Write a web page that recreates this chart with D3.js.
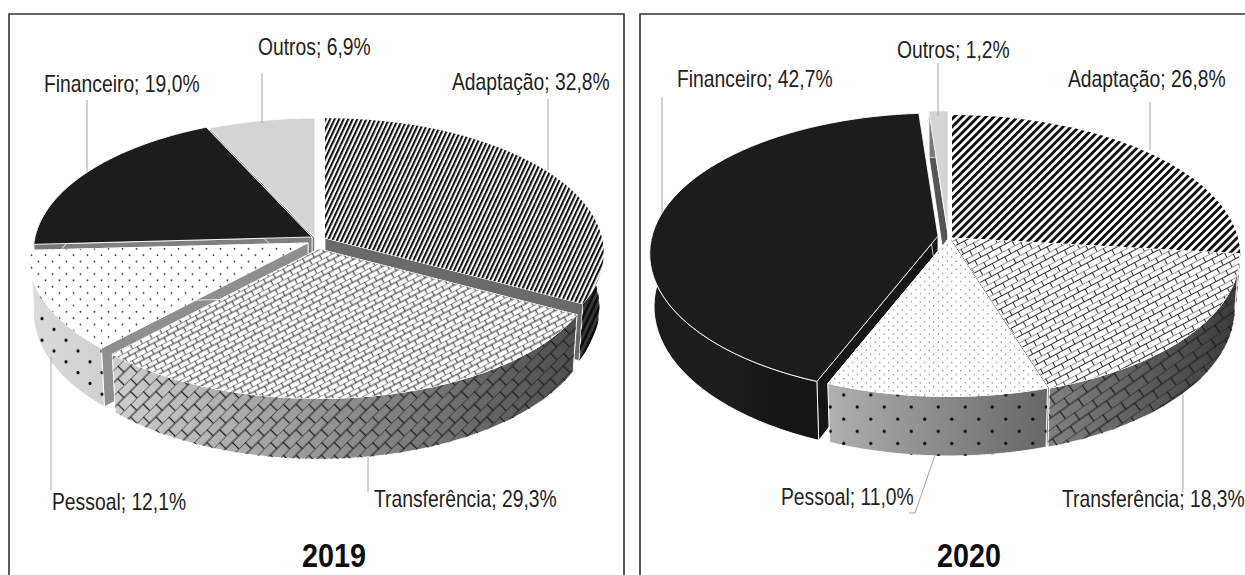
<!DOCTYPE html>
<html><head><meta charset="utf-8">
<script src="https://cdnjs.cloudflare.com/ajax/libs/d3/7.8.5/d3.min.js"></script>
<style>html,body{margin:0;padding:0;background:#fff;overflow:hidden}
text{font-family:"Liberation Sans",Arial,sans-serif;fill:#222}</style>
</head><body><div id="chart"></div>
<script>
const categories = ["Adaptação","Transferência","Pessoal","Financeiro","Outros"];
const values2019 = [32.8,29.3,12.1,19.0,6.9];
const values2020 = [26.8,18.3,11.0,42.7,1.2];
const fmt = v => d3.format(".1f")(v).replace(".",",")+"%";

// presentation settings, kept apart from the data
const panels = [
 {year:"2019", values:values2019, box:[9,14], titleX:334, Rx:277, Ry:133, p:.11, D:54,
  apex:[[325,238],[319,249],[308,243],[312,237],[315,238]],
  order:[4,3,0,2,1],
  stripe:{a:25,w:4.1}, dots:{t:14,r:.9,c:"#333"}, wallDots:{t:24,r:1.6}, brick:{w:11,h:10,a:-28,sw:.9}, wallBrick:{w:18,h:18,a:-45,sw:1.2},
  radial:["#6a6a6a","#888","#8f8f8f","#808080","#777"],
  wallStops:[["#666","#333"],["#cfcfcf","#4d4d4d"],["#dcdcdc","#d0d0d0"],["#777","#777"],["#888","#888"]],
  labels:[[452,90],[374,507],[52,510],[44,92],[258,55]],
  leaders:[[[548,99],[548,170]],[[368,457],[368,492]],[[51,357],[51,490]],[[87,100],[87,172]],[[262,73],[262,123]]]},
 {year:"2020", values:values2020, box:[640,14], titleX:969, Rx:286, Ry:138.5, p:.126, D:52,
  apex:[[952,238],[951,238],[949,238],[938,236],[948,234]],
  order:[4,0,3,1,2],
  stripe:{a:45,w:5.6}, dots:{t:9,r:.65,c:"#666"}, wallDots:{t:27,r:1.7}, brick:{w:14,h:11,a:-28,sw:.9}, wallBrick:{w:22,h:18,a:-35,sw:1.2},
  radial:["#666","#777","#888","#141414","#555"],
  wallStops:[["#555","#333"],["#808080","#3a3a3a"],["#b0b0b0","#666"],["#1d1d1d","#141414"],["#777","#777"]],
  labels:[[1068,87],[1062,507],[781,505],[677,87],[897,58]],
  leaders:[[[1150,102],[1150,150]],[[1183,395],[1183,492]],[[935,455],[915,513],[909,513]],[[662,97],[662,213]],[[938,63],[938,116]]]}
];
const topSolid = {3:"#1f1f1f",4:"#d4d4d4"};

const svg = d3.select("#chart").append("svg").attr("width",1245).attr("height",575);
const defs = svg.append("defs");
defs.append("filter").attr("id","soft").attr("filterUnits","userSpaceOnUse")
  .attr("x",0).attr("y",0).attr("width",1245).attr("height",575)
  .append("feGaussianBlur").attr("stdDeviation",.35);

function pattern(id,w,h,rot){
  return defs.append("pattern").attr("id",id).attr("patternUnits","userSpaceOnUse")
    .attr("width",w).attr("height",h).attr("patternTransform",`rotate(${rot})`);
}
function bricks(id,b){
  const P = pattern(id,b.w,b.h,b.a), hh=b.h/2, w=b.w;
  P.append("path").attr("fill","none").attr("stroke","#1c1c1c").attr("stroke-width",b.sw)
   .attr("d",`M0 0H${w}M0 ${hh}H${w}M${w*.25} 0V${hh}M${w*.75} ${hh}V${b.h}`);
}
function dotted(id,d){
  const P = pattern(id,d.t,d.t*.9,0);
  [[d.t*.25,d.t*.225],[d.t*.75,d.t*.675]].forEach(c=>
    P.append("circle").attr("cx",c[0]).attr("cy",c[1]).attr("r",d.r).attr("fill",d.c||"#111"));
}

panels.forEach(P=>{
  const Y=P.year;
  // panel border
  svg.append("path").attr("fill","none").attr("stroke","#333").attr("stroke-width",1.6)
    .attr("d",`M${P.box[0]} 600V${P.box[1]}H${Y==="2019"?624:1250}${Y==="2019"?"V600":""}`);

  // patterns
  const S = pattern("stripe"+Y,P.stripe.w,12,P.stripe.a);
  S.append("rect").attr("width",P.stripe.w/2).attr("height",12).attr("fill","#111");
  const SW = pattern("stripeW"+Y,P.stripe.w*1.3,12,P.stripe.a);
  SW.append("rect").attr("width",P.stripe.w*.65).attr("height",12).attr("fill","#111");
  bricks("brick"+Y,P.brick); bricks("brickW"+Y,P.wallBrick);
  dotted("dots"+Y,P.dots); dotted("dotsW"+Y,P.wallDots);

  const g = svg.append("g").attr("filter","url(#soft)");
  const pie = d3.pie().sort(null).startAngle(0).endAngle(2*Math.PI);
  const arcs = pie(P.values);
  const project = (a,r,c,z) => {
    const u=r*Math.sin(a), v=-r*Math.cos(a), w=1-P.p*v, s=z?.985:1;
    return [c[0]+P.Rx*u/w*s, c[1]+P.Ry*v/w+z*P.D/w];
  };
  const line = d3.line();
  const sample = (d,z,c) => d3.range(0,61).map(i=>project(d.startAngle+(d.endAngle-d.startAngle)*i/60,1,c,z));
  const topPatt = ["stripe","brick","dots"], wallPatt=["stripeW","brickW","dotsW"];

  P.order.forEach(i=>{
    const d=arcs[i], c=P.apex[i], group=g.append("g");
    const radial = ang => [project(ang,0,c,0),project(ang,1,c,0),project(ang,1,c,1),project(ang,0,c,1)];
    [d.startAngle,d.endAngle].forEach(ang=>
      group.append("path").attr("d",line(radial(ang))+"Z").attr("fill",P.radial[i])
        .attr("stroke","#fff").attr("stroke-width",.8));
    // outer wall
    const wallD = line(sample(d,0,c).concat(sample(d,1,c).reverse()))+"Z";
    const gid=`wall${Y}${i}`;
    const lg=defs.append("linearGradient").attr("id",gid).attr("gradientUnits","userSpaceOnUse")
      .attr("x1",d3.min(sample(d,0,c),q=>q[0])).attr("x2",d3.max(sample(d,0,c),q=>q[0])).attr("y1",0).attr("y2",0);
    lg.append("stop").attr("offset",0).attr("stop-color",P.wallStops[i][0]);
    lg.append("stop").attr("offset",1).attr("stop-color",P.wallStops[i][1]);
    group.append("path").attr("d",wallD).attr("fill",`url(#${gid})`).attr("stroke","#fff").attr("stroke-width",.9);
    if(i<3) group.append("path").attr("d",wallD).attr("fill",`url(#${wallPatt[i]}${Y})`);
    // top face
    const topD = line([project(0,0,c,0)].concat(sample(d,0,c)))+"Z";
    group.append("path").attr("d",topD).attr("fill",topSolid[i]||"#fff").attr("stroke","#fff").attr("stroke-width",.9);
    if(i<3) group.append("path").attr("d",topD).attr("fill",`url(#${topPatt[i]}${Y})`);
  });

  // leader lines
  svg.append("g").selectAll("path").data(P.leaders).join("path")
    .attr("d",d=>line(d)).attr("fill","none").attr("stroke","#a6a6a6").attr("stroke-width",1);
  // labels (the narrow look is obtained by squeezing the text horizontally)
  svg.append("g").selectAll("text").data(categories).join("text")
    .attr("transform",(d,i)=>`translate(${P.labels[i][0]},${P.labels[i][1]}) scale(.84,1)`)
    .attr("font-size",23).text((d,i)=>`${d}; ${fmt(P.values[i])}`);
  svg.append("text").attr("transform",`translate(${P.titleX},567) scale(.87,1)`).attr("text-anchor","middle")
    .attr("font-size",33).attr("font-weight","bold").style("fill","#0d0d0d").text(Y);
});
</script></body></html>
